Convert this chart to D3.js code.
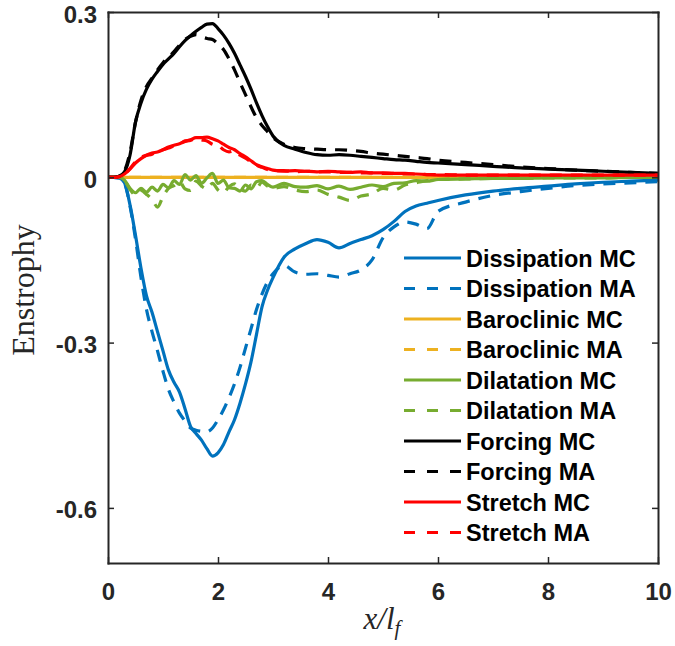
<!DOCTYPE html>
<html><head><meta charset="utf-8">
<script src="https://cdn.jsdelivr.net/npm/d3@7"></script>
<style>body{margin:0;background:#fff}svg{display:block}</style>
</head><body><svg id="c" width="675" height="646"></svg>
<script>
const xGrid = [0,0.1,0.2,0.3,0.4,0.5,0.6,0.7,0.8,0.9,1.0,1.1,1.2,1.3,1.4,1.5,1.6,1.7,1.8,1.9,2.0,2.1,2.2,2.3,2.4,2.5,2.6,2.7,2.8,2.9,3.0,
  3.2,3.4,3.6,3.8,4.0,4.2,4.4,4.6,4.8,5.0,5.2,5.4,5.6,5.8,6.0,6.5,7.0,7.5,8.0,8.5,9.0,9.5,10.0];

const dissipationMC = [0,0,-0.001,-0.01,-0.05,-0.105,-0.165,-0.215,-0.245,-0.28,-0.315,-0.35,-0.372,-0.39,-0.42,-0.452,-0.465,-0.477,-0.493,-0.506,-0.5,-0.485,-0.462,-0.44,-0.41,-0.375,-0.335,-0.285,-0.235,-0.205,-0.182,
  -0.145,-0.13,-0.12,-0.113,-0.118,-0.128,-0.12,-0.113,-0.106,-0.095,-0.08,-0.062,-0.052,-0.047,-0.042,-0.032,-0.025,-0.02,-0.016,-0.012,-0.009,-0.007,-0.005];
const dissipationMA = [0,0,-0.001,-0.011,-0.052,-0.112,-0.182,-0.24,-0.28,-0.315,-0.352,-0.385,-0.408,-0.428,-0.442,-0.455,-0.459,-0.461,-0.462,-0.455,-0.44,-0.422,-0.4,-0.375,-0.345,-0.31,-0.275,-0.24,-0.212,-0.19,-0.175,
  -0.16,-0.172,-0.176,-0.175,-0.178,-0.181,-0.175,-0.168,-0.15,-0.11,-0.09,-0.081,-0.085,-0.093,-0.062,-0.045,-0.033,-0.026,-0.02,-0.015,-0.012,-0.01,-0.008];
const baroclinicMC = [0,0,0,0,0,0,0,0,0,0,0,0,0,0,0,0,0,0,0,0,0,0,0,0,0,0,0,0,0,0,0,
  0,0,0,0,0,0,0,0,0,0,0,0,0,0,0,0,0,0,0,0,0,0,0];
const baroclinicMA = [0,0,0,0,0,0,0,0,0,0,0,0,0,0,0,0,0,0,0,0,0,0,0,0,0,0,0,0,0,0,0,
  0,0,0,0,0,0,0,0,0,0,0,0,0,0,0,0,0,0,0,0,0,0,0];
const dilatationMC = [0,0,0,-0.005,-0.02,-0.028,-0.02,-0.027,-0.018,-0.025,-0.013,-0.019,-0.006,-0.013,0.005,-0.005,0.003,-0.011,-0.001,0.007,-0.011,-0.005,-0.019,-0.02,-0.025,-0.014,-0.021,-0.008,-0.006,-0.013,-0.018,
  -0.011,-0.017,-0.018,-0.015,-0.021,-0.016,-0.022,-0.018,-0.014,-0.017,-0.011,-0.01,-0.006,-0.007,-0.004,-0.003,-0.002,-0.002,-0.001,-0.001,-0.001,0,0];
const dilatationMA = [0,0,0,-0.006,-0.022,-0.032,-0.024,-0.031,-0.04,-0.054,-0.035,-0.02,-0.015,-0.008,-0.021,-0.024,-0.007,-0.016,-0.021,-0.011,-0.023,-0.028,-0.017,-0.012,-0.021,-0.025,-0.014,-0.019,-0.009,-0.016,-0.02,
  -0.017,-0.023,-0.026,-0.023,-0.031,-0.036,-0.042,-0.034,-0.03,-0.02,-0.023,-0.014,-0.01,-0.006,-0.004,-0.003,-0.002,-0.002,-0.001,-0.001,-0.001,0,0];
const forcingMC = [0,0,0.002,0.01,0.04,0.1,0.135,0.16,0.178,0.192,0.205,0.215,0.225,0.237,0.248,0.257,0.265,0.272,0.278,0.279,0.27,0.258,0.243,0.225,0.204,0.183,0.16,0.135,0.112,0.092,0.075,
  0.058,0.051,0.045,0.041,0.04,0.041,0.04,0.038,0.036,0.034,0.032,0.031,0.029,0.027,0.026,0.023,0.02,0.017,0.015,0.013,0.011,0.009,0.007];
const forcingMA = [0,0,0.002,0.012,0.045,0.1,0.14,0.165,0.18,0.195,0.208,0.218,0.228,0.24,0.25,0.256,0.259,0.255,0.252,0.25,0.242,0.232,0.215,0.195,0.172,0.15,0.128,0.108,0.094,0.083,0.072,
  0.06,0.054,0.052,0.051,0.05,0.05,0.049,0.047,0.044,0.042,0.04,0.038,0.036,0.034,0.031,0.027,0.023,0.019,0.016,0.013,0.011,0.009,0.007];
const stretchMC = [0,0,0.001,0.006,0.015,0.026,0.034,0.04,0.044,0.046,0.05,0.055,0.058,0.061,0.065,0.068,0.072,0.072,0.073,0.07,0.066,0.06,0.054,0.05,0.043,0.037,0.03,0.023,0.019,0.016,0.013,
  0.011,0.012,0.011,0.01,0.011,0.01,0.009,0.01,0.008,0.008,0.007,0.007,0.006,0.005,0.004,0.004,0.004,0.004,0.004,0.004,0.004,0.004,0.004];
const stretchMA = [0,0,0.001,0.006,0.016,0.028,0.036,0.04,0.042,0.048,0.05,0.053,0.057,0.06,0.066,0.067,0.07,0.068,0.066,0.06,0.058,0.05,0.046,0.048,0.04,0.035,0.028,0.022,0.018,0.014,0.012,
  0.012,0.01,0.011,0.01,0.01,0.009,0.009,0.008,0.008,0.007,0.007,0.006,0.006,0.005,0.005,0.004,0.004,0.004,0.004,0.004,0.004,0.004,0.004];

const seriesNames = ["Dissipation MC","Dissipation MA","Baroclinic MC","Baroclinic MA","Dilatation MC","Dilatation MA","Forcing MC","Forcing MA","Stretch MC","Stretch MA"];
const seriesValues = [dissipationMC,dissipationMA,baroclinicMC,baroclinicMA,dilatationMC,dilatationMA,forcingMC,forcingMA,stretchMC,stretchMA];
const seriesColors = ["#0072BD","#0072BD","#EDB120","#EDB120","#77AC30","#77AC30","#000000","#000000","#FF0000","#FF0000"];
const seriesDashed = [false,true,false,true,false,true,false,true,false,true];
const xTicks = [0,2,4,6,8,10];
const yTicks = [-0.6,-0.3,0,0.3];
const yTickLabels = ["-0.6","-0.3","0","0.3"];

const svg = d3.select("#c");
const L = 108, R = 658, T = 12, B = 563;
const x = d3.scaleLinear().domain([0,10]).range([L,R]);
const y = d3.scaleLinear().domain([-0.7,0.3]).range([B,T]);
const axisColor = "#262626";
const tickFont = "'Liberation Sans', Arial, Helvetica, sans-serif";

svg.append("defs").append("clipPath").attr("id","clip")
  .append("rect").attr("x",L).attr("y",T).attr("width",R-L).attr("height",B-T);

const g = svg.append("g").attr("clip-path","url(#clip)");
const line = d3.line().x(d=>x(d[0])).y(d=>y(d[1])).curve(d3.curveMonotoneX);
seriesValues.forEach((vals,i)=>{
  g.append("path").datum(xGrid.map((xv,j)=>[xv,vals[j]]))
    .attr("d",line).attr("fill","none")
    .attr("stroke",seriesColors[i]).attr("stroke-width",3.2)
    .attr("stroke-dasharray",seriesDashed[i]?"12,9":null)
    .attr("stroke-linejoin","round");
});

function styleAxis(sel){
  sel.select(".domain").attr("stroke",axisColor).attr("stroke-width",2);
  sel.selectAll(".tick line").attr("stroke",axisColor).attr("stroke-width",1.5);
  sel.selectAll(".tick text").attr("fill",axisColor).attr("font-family",tickFont)
    .attr("font-weight","bold").attr("font-size",24);
}
svg.append("g").attr("transform",`translate(0,${B})`)
  .call(d3.axisBottom(x).tickValues(xTicks).tickFormat(d3.format("d")).tickSizeInner(-6).tickSizeOuter(0).tickPadding(20))
  .call(styleAxis);
svg.append("g").attr("transform",`translate(0,${T})`)
  .call(d3.axisTop(x).tickValues(xTicks).tickFormat("").tickSizeInner(-6).tickSizeOuter(0))
  .call(styleAxis);
svg.append("g").attr("transform",`translate(${L},0)`)
  .call(d3.axisLeft(y).tickValues(yTicks).tickFormat((d,i)=>yTickLabels[i]).tickSizeInner(-6).tickSizeOuter(0).tickPadding(11))
  .call(styleAxis)
  .call(s=>s.selectAll(".tick text").attr("dy","0.42em"));
svg.append("g").attr("transform",`translate(${R},0)`)
  .call(d3.axisRight(y).tickValues(yTicks).tickFormat("").tickSizeInner(-6).tickSizeOuter(0))
  .call(styleAxis);
svg.selectAll(".domain").attr("stroke-linecap","square");

// axis titles
svg.append("text").attr("transform","translate(34,290) rotate(-90)")
  .attr("text-anchor","middle").attr("font-family","'Liberation Serif', 'Times New Roman', serif")
  .attr("font-size",32).attr("fill",axisColor).text("Enstrophy");
const xt = svg.append("text").attr("x",382).attr("y",629).attr("text-anchor","middle")
  .attr("font-family","'Liberation Serif', 'Times New Roman', serif").attr("font-style","italic")
  .attr("font-size",31).attr("fill",axisColor);
xt.append("tspan").text("x/l");
xt.append("tspan").attr("font-size",21).attr("dy",6).text("f");

// legend
const lg = svg.append("g");
seriesNames.forEach((name,i)=>{
  const cy = 258 + i*30.5;
  lg.append("line").attr("x1",404).attr("x2",461).attr("y1",cy).attr("y2",cy)
    .attr("stroke",seriesColors[i]).attr("stroke-width",3.2)
    .attr("stroke-dasharray",seriesDashed[i]?"11,12":null);
  lg.append("text").attr("x",466).attr("y",cy+8.5).attr("font-family",tickFont)
    .attr("font-weight","bold").attr("font-size",23.5).attr("fill","#000").text(name);
});
</script></body></html>
